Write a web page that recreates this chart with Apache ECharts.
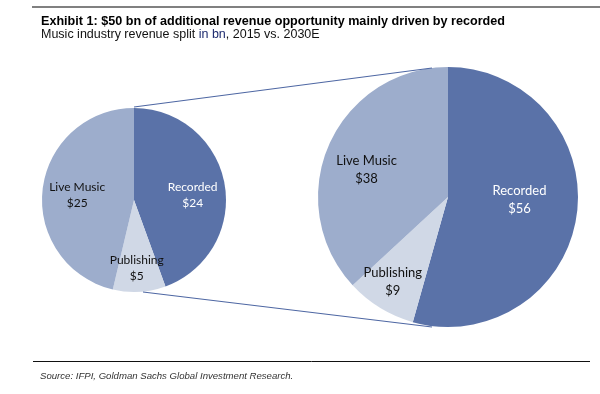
<!DOCTYPE html>
<html>
<head>
<meta charset="utf-8">
<script src="https://cdn.jsdelivr.net/npm/echarts@6/dist/echarts.min.js"></script>
<style>
html,body{margin:0;padding:0;background:#fff;}
#chart{width:600px;height:394px;}
</style>
</head>
<body>
<div id="chart"></div>
<script>
// ---- data ----
var categories = ['Recorded', 'Publishing', 'Live Music'];
var values2015 = [24, 5, 25];
var values2030 = [56, 9, 38];
var titleText = 'Exhibit 1: $50 bn of additional revenue opportunity mainly driven by recorded';
var subtitleParts = ['Music industry revenue split ', 'in bn', ', 2015 vs. 2030E'];
var sourceText = 'Source: IFPI, Goldman Sachs Global Investment Research.';

// ---- layout / style ----
var colors = ['#5a72a8', '#d0d8e6', '#9dadcc'];
var labelColors = ['#ffffff', '#111111', '#111111'];
var smallPie = { cx: 134, cy: 200, r: 92, font: 12, lh: 16, labelFrac: [0.64, 0.74, 0.62], labelShift: [5, 1, -2] };
var bigPie = { cx: 448, cy: 197, r: 130, font: 13, lh: 18, labelFrac: [0.55, 0.78, 0.66], labelShift: [-5.5, 1.5, -5.2] };
var fontLabel = 'Lato, "Open Sans", sans-serif';
var fontHead = '"Liberation Sans", Arial, sans-serif';

function pieSeries(values, cfg) {
  var total = values.reduce(function (a, b) { return a + b; }, 0);
  return {
    type: 'pie',
    center: [cfg.cx, cfg.cy],
    radius: [0, cfg.r],
    startAngle: 90,
    clockwise: true,
    silent: true,
    animation: false,
    label: {
      show: true,
      position: 'inside',
      fontFamily: fontLabel,
      fontSize: cfg.font,
      lineHeight: cfg.lh,
      formatter: function (p) { return p.name + '\n$' + p.value; }
    },
    labelLine: { show: false },
    labelLayout: function (p) {
      var before = 0;
      for (var i = 0; i < p.dataIndex; i++) before += values[i];
      var mid = (before + values[p.dataIndex] / 2) / total * 2 * Math.PI
        + cfg.labelShift[p.dataIndex] * Math.PI / 180;
      var rr = cfg.labelFrac[p.dataIndex] * cfg.r;
      var tx = cfg.cx + Math.sin(mid) * rr, ty = cfg.cy - Math.cos(mid) * rr;
      var rc = p.labelRect;
      return { dx: tx - (rc.x + rc.width / 2), dy: ty - (rc.y + rc.height / 2) };
    },
    itemStyle: { borderWidth: 0 },
    data: categories.map(function (c, i) {
      return {
        name: c, value: values[i],
        itemStyle: { color: colors[i] },
        label: { color: labelColors[i] }
      };
    })
  };
}

var chart = echarts.init(document.getElementById('chart'), null, { renderer: 'canvas' });
var lineColor = '#4e67a3';
chart.setOption({
  backgroundColor: '#ffffff',
  animation: false,
  title: [
    {
      text: titleText, left: 36, top: 10,
      textStyle: { fontFamily: fontHead, fontWeight: 'bold', fontSize: 12.6, lineHeight: 14, color: '#000' }
    },
    {
      text: '{a|' + subtitleParts[0] + '}{b|' + subtitleParts[1] + '}{a|' + subtitleParts[2] + '}',
      left: 36, top: 23,
      textStyle: {
        fontWeight: 'normal',
        rich: {
          a: { fontFamily: fontHead, fontWeight: 'normal', fontSize: 12.5, lineHeight: 14, color: '#111' },
          b: { fontFamily: fontHead, fontWeight: 'normal', fontSize: 12.5, lineHeight: 14, color: '#1c2a6e' }
        }
      }
    },
    {
      text: sourceText, left: 35, top: 365,
      textStyle: { fontFamily: fontHead, fontStyle: 'italic', fontWeight: 'normal', fontSize: 9.6, lineHeight: 12, color: '#333' }
    }
  ],
  graphic: [
    { type: 'line', shape: { x1: 32, y1: 7, x2: 600, y2: 7 }, style: { stroke: '#808080', lineWidth: 2 } },
    { type: 'line', shape: { x1: 33, y1: 361.5, x2: 590, y2: 361.5 }, style: { stroke: '#111', lineWidth: 1 } },
    { type: 'line', z: 10, shape: { x1: smallPie.cx, y1: smallPie.cy - smallPie.r - 1, x2: bigPie.cx - 16, y2: bigPie.cy - bigPie.r + 1 }, style: { stroke: lineColor, lineWidth: 1.2 } },
    { type: 'line', z: 10, shape: { x1: smallPie.cx + 9, y1: smallPie.cy + smallPie.r, x2: bigPie.cx - 16, y2: bigPie.cy + bigPie.r }, style: { stroke: lineColor, lineWidth: 1.2 } }
  ],
  series: [pieSeries(values2015, smallPie), pieSeries(values2030, bigPie)]
});
</script>
</body>
</html>
